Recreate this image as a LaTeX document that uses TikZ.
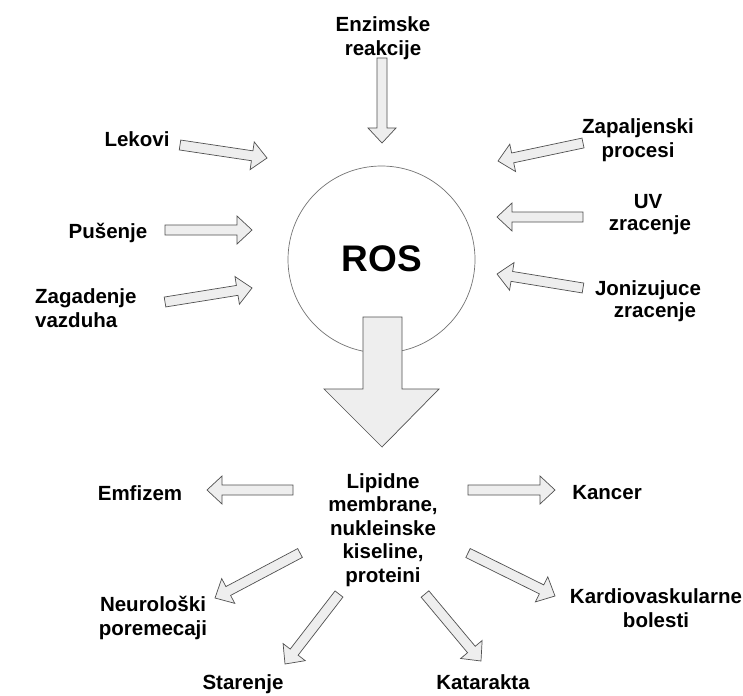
\documentclass[tikz,border=0pt]{standalone}
\usepackage{fontspec}
\setmainfont{Liberation Sans}
\usetikzlibrary{calc}
\definecolor{arrfill}{HTML}{EEEEEE}
\definecolor{arrline}{HTML}{505050}
\tikzset{
  lbl/.style={font=\fontsize{20.5}{23.5}\selectfont\bfseries, align=center, inner sep=0pt},
  arrstyle/.style={fill=arrfill, draw=arrline, line width=0.7pt, line join=miter},
}
\newcommand\blockarr[2]{%
  \coordinate (ah) at ($(#2)!15pt!(#1)$);
  \draw[arrstyle] ($(#1)!5pt!90:(#2)$) -- ($(ah)!5pt!90:(#2)$) -- ($(ah)!14pt!90:(#2)$) -- (#2)
    -- ($(ah)!14pt!-90:(#2)$) -- ($(ah)!5pt!-90:(#2)$) -- ($(#1)!5pt!-90:(#2)$) -- cycle;}
\begin{document}
\begin{tikzpicture}[x=1pt,y=-1pt]
\useasboundingbox[fill=white] (0,0) rectangle (743,695);
% ROS circle
\node[circle, draw=arrline!80, line width=0.7pt, minimum size=187pt, inner sep=0pt] (ros) at (381.5,259.5) {};
\node[font=\fontsize{37}{40}\selectfont\bfseries, inner sep=0pt] (rostxt) at (382,258.5) {ROS};
% big arrow
\draw[arrstyle] (363,317) -- (402,317) -- (402,389) -- (439,389) -- (382,447) -- (324,389) -- (363,389) -- cycle;
% labels
\node[lbl] (enz) at (383,38) {Enzimske\\reakcije};
\node[lbl] (lek) at (137,139) {Lekovi};
\node[lbl] (pus) at (108,233) {Pušenje};
\node[lbl, align=left, anchor=west] (zag) at (35,308) {Zagadenje\\vazduha};
\node[lbl] (zap) at (638,140) {Zapaljenski\\procesi};
\node[lbl] (uv1) at (648,202) {UV};
\node[lbl] (uv2) at (650,225) {zracenje};
\node[lbl] (jon) at (648,290) {Jonizujuce};
\node[lbl] (jon2) at (655,312) {zracenje};
\node[lbl] (lip) at (383,530) {Lipidne\\membrane,\\nukleinske\\kiseline,\\proteini};
\node[lbl] (emf) at (140,493) {Emfizem};
\node[lbl] (kan) at (607,493) {Kancer};
\node[lbl] (neu) at (153,618) {Neurološki\\poremecaji};
\node[lbl] (kar) at (656,608) {Kardiovaskularne\\bolesti};
\node[lbl, anchor=base] (sta) at (243,689) {Starenje};
\node[lbl, anchor=base] (kat) at (483,689) {Katarakta};
% arrow end points
\coordinate (enzA) at (382,58);  \coordinate (enzB) at (382,143);
\coordinate (lekA) at (180,145); \coordinate (lekB) at (267,158);
\coordinate (pusA) at (165,230); \coordinate (pusB) at (252,230);
\coordinate (zagA) at (165,302); \coordinate (zagB) at (252,288);
\coordinate (zapA) at (583,143); \coordinate (zapB) at (498,161);
\coordinate (uvA) at (583,217);  \coordinate (uvB) at (497,217);
\coordinate (jonA) at (583,288); \coordinate (jonB) at (497,274);
\coordinate (emfA) at (293,490); \coordinate (emfB) at (207,490);
\coordinate (kanA) at (468,490); \coordinate (kanB) at (555,490);
\coordinate (neuA) at (300,553); \coordinate (neuB) at (215,598);
\coordinate (karA) at (468,553); \coordinate (karB) at (555,596);
\coordinate (staA) at (339,594); \coordinate (staB) at (285,664);
\coordinate (katA) at (425,594); \coordinate (katB) at (481,661);
\blockarr{enzA}{enzB}
\blockarr{lekA}{lekB}
\blockarr{pusA}{pusB}
\blockarr{zagA}{zagB}
\blockarr{zapA}{zapB}
\blockarr{uvA}{uvB}
\blockarr{jonA}{jonB}
\blockarr{emfA}{emfB}
\blockarr{kanA}{kanB}
\blockarr{neuA}{neuB}
\blockarr{karA}{karB}
\blockarr{staA}{staB}
\blockarr{katA}{katB}
\end{tikzpicture}
\end{document}
